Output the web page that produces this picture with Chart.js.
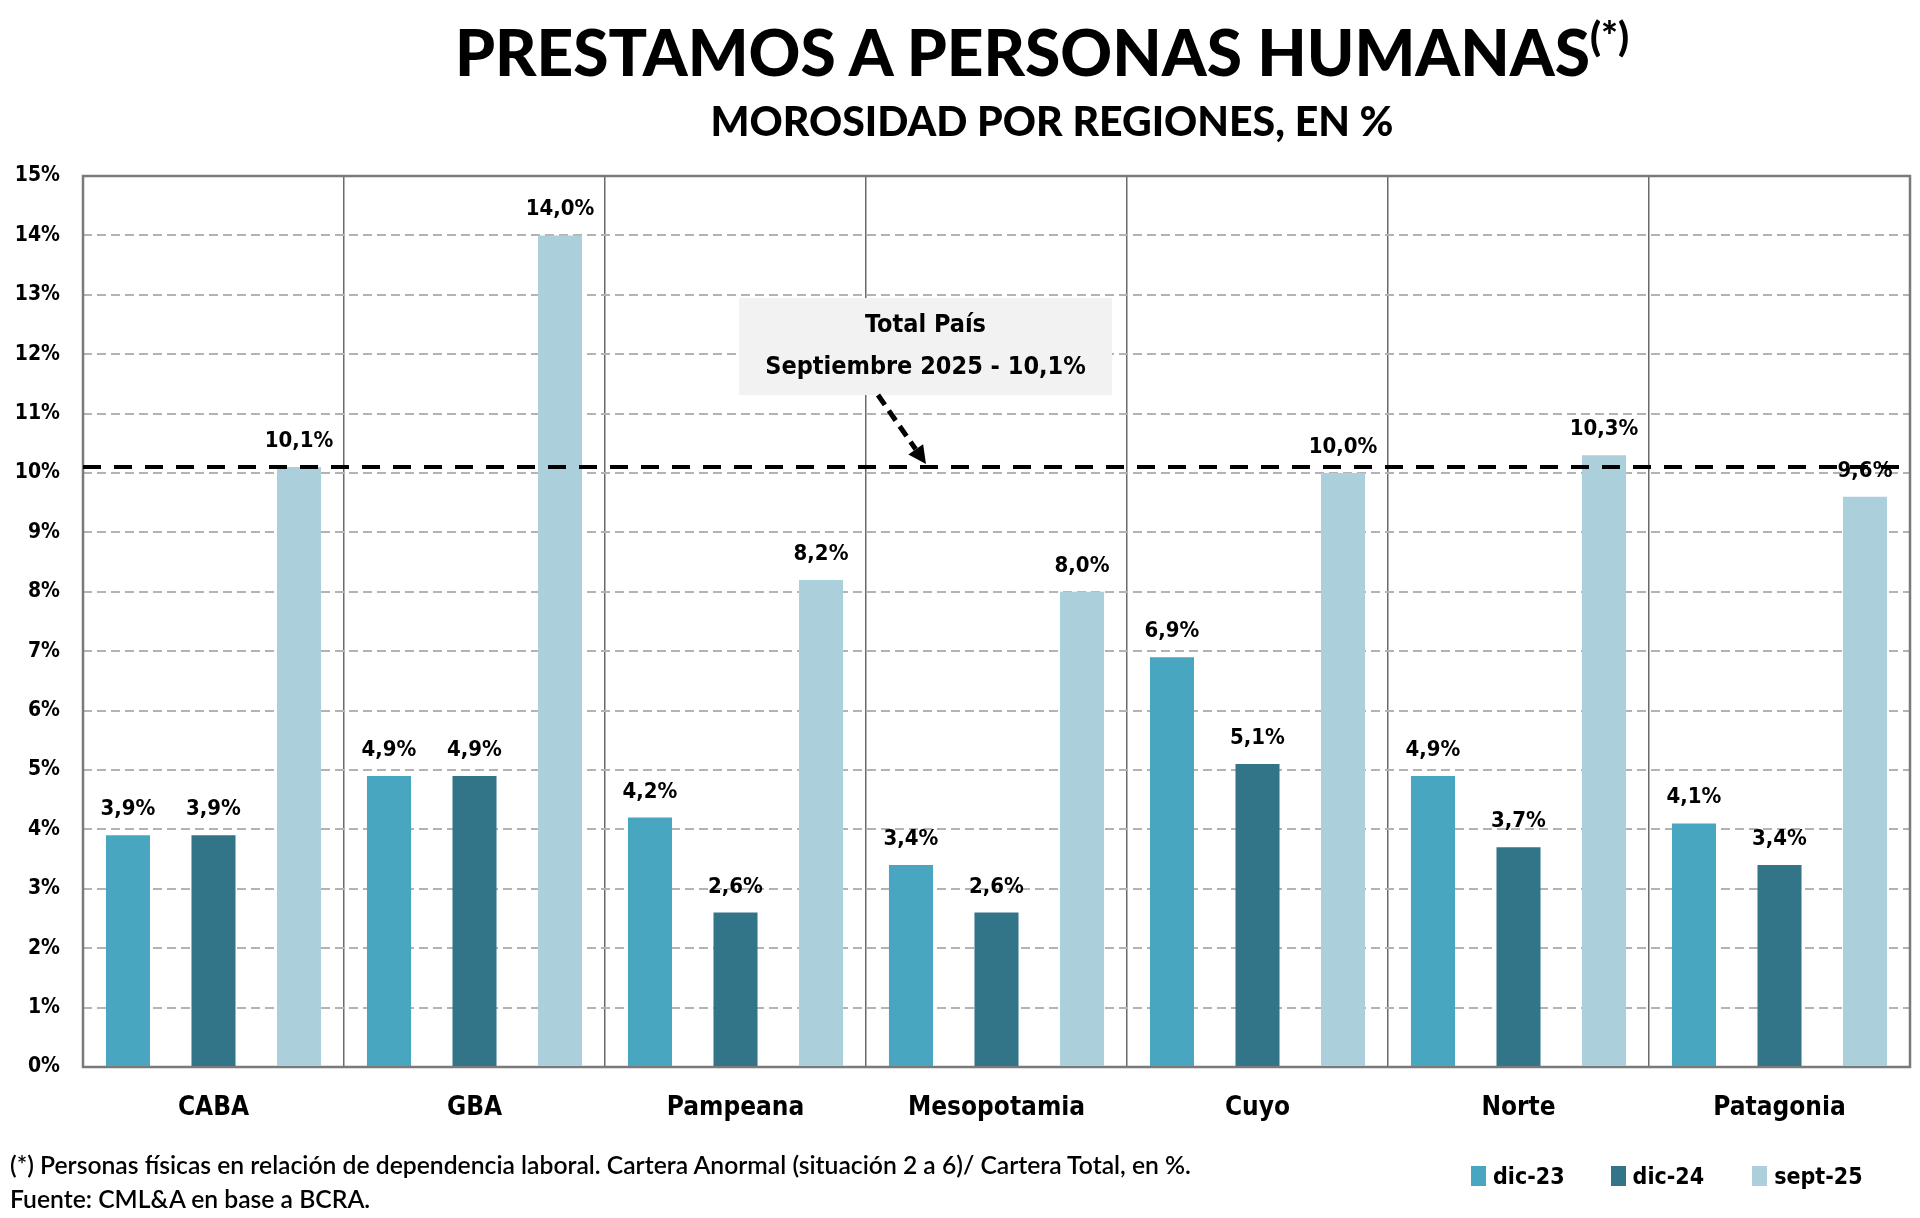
<!DOCTYPE html>
<html>
<head>
<meta charset="utf-8">
<script src="https://cdn.jsdelivr.net/npm/chart.js@4.4.1/dist/chart.umd.min.js"></script>
<style>
html,body{margin:0;padding:0;background:#fff;}
#wrap{position:relative;width:1920px;height:1218px;overflow:hidden;background:#fff;}
#chart{position:absolute;left:0;top:0;}
.t{position:absolute;white-space:nowrap;transform:translateX(-50%);color:#000;}
#title{left:1042px;top:20px;font-family:Lato,"DejaVu Sans",sans-serif;font-weight:900;font-size:64px;line-height:64px;}
#title sup{font-size:40px;vertical-align:top;position:relative;top:-16px;}
#subtitle{left:1052px;top:100px;font-family:Lato,"DejaVu Sans",sans-serif;font-weight:900;font-size:41px;line-height:41px;}
#foot{position:absolute;left:10px;top:1148px;font-family:Lato,"DejaVu Sans",sans-serif;font-weight:600;font-size:24.7px;line-height:34px;color:#000;}
#legend{position:absolute;left:1471px;top:1162px;display:flex;font-family:"DejaVu Sans Condensed","DejaVu Sans",sans-serif;font-weight:bold;font-size:23px;line-height:28px;color:#000;}
#legend .it{display:flex;align-items:center;}
#legend .sw{width:15px;height:20px;margin-right:7px;}
</style>
</head>
<body>
<div id="wrap">
<canvas id="chart" width="1920" height="1218"></canvas>
<div id="title" class="t">PRESTAMOS A PERSONAS HUMANAS<sup>(*)</sup></div>
<div id="subtitle" class="t">MOROSIDAD POR REGIONES, EN %</div>
<div id="foot">(*) Personas físicas en relación de dependencia laboral. Cartera Anormal (situación 2 a 6)/ Cartera Total, en %.<br>Fuente: CML&amp;A en base a BCRA.</div>
<div id="legend"></div>
</div>
<script>
// ---- data ----
const categories = ['CABA', 'GBA', 'Pampeana', 'Mesopotamia', 'Cuyo', 'Norte', 'Patagonia'];
const seriesNames = ['dic-23', 'dic-24', 'sept-25'];
const dic23 = [3.9, 4.9, 4.2, 3.4, 6.9, 4.9, 4.1];
const dic24 = [3.9, 4.9, 2.6, 2.6, 5.1, 3.7, 3.4];
const sept25 = [10.1, 14.0, 8.2, 8.0, 10.0, 10.3, 9.6];
const yMin = 0, yMax = 15, yStep = 1;
const totalPais = 10.1;
const totalLabel = ['Total País', 'Septiembre 2025 - 10,1%'];

// ---- styles ----
const colors = ['#48A6C0', '#327588', '#ACCFDC'];
const legendGaps = [46, 48, 0];
const labelFont = 'bold 22px "DejaVu Sans Condensed", "DejaVu Sans", sans-serif';

const fmt = v => v.toFixed(1).replace('.', ',') + '%';

// legend (HTML)
const legendEl = document.getElementById('legend');
seriesNames.forEach((n, i) => {
  const it = document.createElement('div'); it.className = 'it';
  it.style.marginRight = legendGaps[i] + 'px';
  const sw = document.createElement('div'); sw.className = 'sw'; sw.style.background = colors[i];
  const tx = document.createElement('span'); tx.textContent = n;
  it.appendChild(sw); it.appendChild(tx); legendEl.appendChild(it);
});

const plotBorder = {
  id: 'plotBorder',
  beforeDatasetsDraw(chart) {
    const {ctx, chartArea: a} = chart;
    ctx.save();
    ctx.strokeStyle = '#7a7a7a';
    ctx.lineWidth = 2.5;
    ctx.strokeRect(a.left, a.top, a.right - a.left, a.bottom - a.top);
    ctx.restore();
  }
};

const valueLabels = {
  id: 'valueLabels',
  afterDatasetsDraw(chart) {
    const {ctx} = chart;
    ctx.save();
    ctx.font = labelFont;
    ctx.fillStyle = '#000';
    ctx.textAlign = 'center';
    ctx.textBaseline = 'alphabetic';
    chart.data.datasets.forEach((ds, di) => {
      chart.getDatasetMeta(di).data.forEach((bar, i) => {
        ctx.fillText(fmt(ds.data[i]), bar.x, bar.y - 20);
      });
    });
    ctx.restore();
  }
};

const totalLine = {
  id: 'totalLine',
  afterDatasetsDraw(chart) {
    const {ctx, chartArea: a} = chart;
    const y = chart.scales.y.getPixelForValue(totalPais);
    ctx.save();
    // dashed line
    ctx.strokeStyle = '#000';
    ctx.lineWidth = 4;
    ctx.setLineDash([18, 13]);
    ctx.beginPath();
    ctx.moveTo(a.left, y);
    ctx.lineTo(a.right, y);
    ctx.stroke();
    // box
    ctx.setLineDash([]);
    ctx.fillStyle = '#F2F2F2';
    const bx = 739, by = 298, bw = 373, bh = 97;
    ctx.fillRect(bx, by, bw, bh);
    ctx.fillStyle = '#000';
    ctx.font = 'bold 25px "DejaVu Sans Condensed", "DejaVu Sans", sans-serif';
    ctx.textAlign = 'center';
    ctx.textBaseline = 'middle';
    ctx.fillText(totalLabel[0], bx + bw / 2, by + 27);
    ctx.fillText(totalLabel[1], bx + bw / 2, by + 69);
    // arrow
    const x0 = 878, y0 = by + bh, x1 = 926, y1 = y - 3;
    const ang = Math.atan2(y1 - y0, x1 - x0);
    const hl = 18;
    const sx = x1 - hl * Math.cos(ang), sy = y1 - hl * Math.sin(ang);
    ctx.lineWidth = 5;
    ctx.setLineDash([12, 7]);
    ctx.beginPath();
    ctx.moveTo(x0, y0);
    ctx.lineTo(sx, sy);
    ctx.stroke();
    ctx.setLineDash([]);
    ctx.beginPath();
    ctx.moveTo(x1, y1);
    ctx.lineTo(sx + 9 * Math.sin(ang), sy - 9 * Math.cos(ang));
    ctx.lineTo(sx - 9 * Math.sin(ang), sy + 9 * Math.cos(ang));
    ctx.closePath();
    ctx.fill();
    ctx.restore();
  }
};

new Chart(document.getElementById('chart'), {
  type: 'bar',
  data: {
    labels: categories,
    datasets: [
      {label: seriesNames[0], data: dic23, backgroundColor: colors[0]},
      {label: seriesNames[1], data: dic24, backgroundColor: colors[1]},
      {label: seriesNames[2], data: sept25, backgroundColor: colors[2]}
    ]
  },
  options: {
    responsive: false,
    animation: false,
    devicePixelRatio: 1,
    categoryPercentage: 0.983,
    barPercentage: 0.515,
    layout: {padding: {top: 176, right: 10, bottom: 91, left: 0}},
    plugins: {legend: {display: false}, tooltip: {enabled: false}, title: {display: false}},
    scales: {
      x: {
        grid: {display: true, offset: true, color: '#6a6a6a', lineWidth: 1.5, drawTicks: false},
        border: {display: false},
        ticks: {font: {family: '"DejaVu Sans Condensed", "DejaVu Sans"', weight: 'bold', size: 26}, color: '#000', padding: 26},
        afterFit(s) { s.height = 60; }
      },
      y: {
        min: yMin, max: yMax,
        ticks: {stepSize: yStep, callback: v => v + '%', font: {family: '"DejaVu Sans Condensed", "DejaVu Sans"', weight: 'bold', size: 21}, color: '#000', padding: 23},
        grid: {color: '#b3b3b3', lineWidth: 2, drawTicks: false},
        border: {display: false, dash: [9, 5]},
        afterFit(s) { s.width = 83; }
      }
    }
  },
  plugins: [plotBorder, valueLabels, totalLine]
});
</script>
</body>
</html>
